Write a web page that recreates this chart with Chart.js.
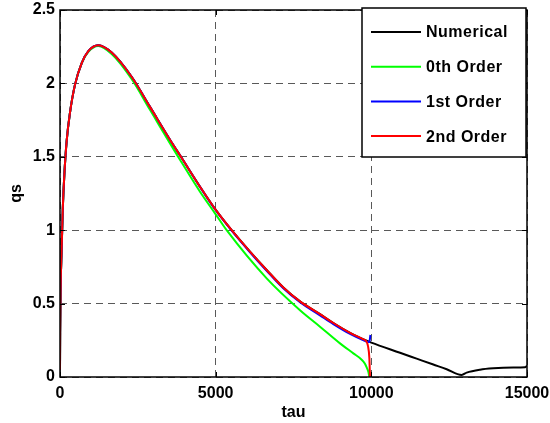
<!DOCTYPE html>
<html>
<head>
<meta charset="utf-8">
<script src="https://cdn.jsdelivr.net/npm/chart.js@4.4.0/dist/chart.umd.min.js"></script>
<style>
  html, body { margin: 0; padding: 0; background: #fff; }
  #wrap { width: 550px; height: 423px; }
</style>
</head>
<body>
<div id="wrap"><canvas id="chart" width="550" height="423"></canvas></div>
<script>
// values
const xTicks = [0, 5000, 10000, 15000];
const yTicks = [0, 0.5, 1, 1.5, 2, 2.5];

const tauNumerical = [0, 5, 20, 50, 90, 140, 215, 320, 480, 700, 910, 1230, 1660, 2300, 2890, 3640, 3854, 4497, 4979, 5514, 6103, 6638, 7173, 7709, 8351, 8780, 9300, 9750, 10000, 10921, 11456, 11991, 12420, 12902, 13062, 13490, 13918, 14561, 14936, 15000];
const qsNumerical  = [0.05, 0.3, 0.6, 0.85, 1.15, 1.38, 1.61, 1.80, 1.99, 2.14, 2.22, 2.26, 2.21, 2.045, 1.84, 1.58, 1.51, 1.296, 1.145, 1.0, 0.854, 0.729, 0.61, 0.515, 0.428, 0.368, 0.303, 0.256, 0.234, 0.165, 0.125, 0.085, 0.053, 0.014, 0.03, 0.05, 0.059, 0.064, 0.066, 0.077];

const tau0th = [0, 5, 20, 50, 90, 140, 215, 320, 480, 700, 910, 1230, 1660, 2300, 2890, 3854, 4497, 4979, 5353, 6638, 7709, 8351, 8994, 9422, 9690, 9790, 9850, 9904, 9936];
const qs0th  = [0.05, 0.3, 0.6, 0.85, 1.15, 1.38, 1.61, 1.80, 1.99, 2.14, 2.215, 2.255, 2.2, 2.03, 1.82, 1.48, 1.262, 1.115, 1.0, 0.672, 0.455, 0.343, 0.229, 0.161, 0.118, 0.092, 0.065, 0.035, 0];

const tau1st = [0, 5, 20, 50, 90, 140, 215, 320, 480, 700, 910, 1230, 1660, 2300, 2890, 3640, 3854, 4497, 4979, 5514, 6103, 6638, 7173, 7709, 8351, 8780, 9300, 9750, 9850, 9936, 9970];
const qs1st  = [0.05, 0.3, 0.6, 0.85, 1.15, 1.38, 1.61, 1.80, 1.99, 2.14, 2.22, 2.26, 2.21, 2.045, 1.84, 1.58, 1.51, 1.295, 1.143, 0.997, 0.85, 0.724, 0.605, 0.51, 0.42, 0.36, 0.295, 0.25, 0.242, 0.238, 0.286];

const tau2nd = [0, 5, 20, 50, 90, 140, 215, 320, 480, 700, 910, 1230, 1660, 2300, 2890, 3640, 3854, 4497, 4979, 5514, 6103, 6638, 7173, 7709, 8351, 8780, 9300, 9750, 9820, 9893, 9936, 9957];
const qs2nd  = [0.05, 0.3, 0.6, 0.85, 1.15, 1.38, 1.61, 1.80, 1.99, 2.14, 2.22, 2.26, 2.21, 2.045, 1.84, 1.58, 1.51, 1.296, 1.145, 1.0, 0.854, 0.729, 0.61, 0.515, 0.428, 0.368, 0.303, 0.256, 0.248, 0.21, 0.13, 0];

const toPoints = (xs, ys) => xs.map((x, i) => ({x: x, y: ys[i]}));

function series(label, xs, ys, color, order) {
    return {
        label: label,
        data: toPoints(xs, ys),
        borderColor: color,
        backgroundColor: color,
        borderWidth: 2,
        pointRadius: 0,
        cubicInterpolationMode: 'monotone',
        order: order
    };
}

// box round the plot, inner ticks and the legend, MATLAB style
const frame = {
    id: 'frame',
    afterDatasetsDraw(chart) {
        const {ctx, chartArea: a, scales: {x, y}} = chart;
        ctx.save();
        ctx.strokeStyle = '#000';
        ctx.lineWidth = 1;
        ctx.beginPath();
        for (const v of xTicks) {
            const px = Math.round(x.getPixelForValue(v)) + 0.5;
            ctx.moveTo(px, a.bottom); ctx.lineTo(px, a.bottom - 5);
            ctx.moveTo(px, a.top); ctx.lineTo(px, a.top + 5);
        }
        for (const v of yTicks) {
            const py = Math.round(y.getPixelForValue(v)) + 0.5;
            ctx.moveTo(a.left, py); ctx.lineTo(a.left + 5, py);
            ctx.moveTo(a.right, py); ctx.lineTo(a.right - 5, py);
        }
        ctx.stroke();
        ctx.lineWidth = 1.5;
        ctx.strokeRect(a.left, a.top, a.right - a.left, a.bottom - a.top);
        ctx.restore();
    },
    afterDraw(chart) {
        const {ctx, chartArea: a} = chart;
        const right = a.right - 1, left = right - 164, top = a.top - 2, bottom = top + 149;
        ctx.save();
        ctx.fillStyle = '#fff';
        ctx.fillRect(left, top, right - left, bottom - top);
        ctx.strokeStyle = '#000';
        ctx.lineWidth = 1.5;
        ctx.strokeRect(left, top, right - left, bottom - top);
        ctx.font = 'bold 16px "Liberation Sans", Arial, sans-serif';
        ctx.letterSpacing = '0.5px';
        ctx.textBaseline = 'middle';
        chart.data.datasets.forEach((ds, i) => {
            const yy = top + 24 + i * 34.7;
            ctx.strokeStyle = ds.borderColor;
            ctx.lineWidth = 2;
            ctx.beginPath();
            ctx.moveTo(left + 9, yy);
            ctx.lineTo(left + 59, yy);
            ctx.stroke();
            ctx.fillStyle = '#000';
            ctx.fillText(ds.label, left + 64, yy + 1);
        });
        ctx.restore();
    }
};

Chart.defaults.font.family = '"Liberation Sans", Arial, sans-serif';
Chart.defaults.font.weight = 'bold';
Chart.defaults.font.size = 16;
Chart.defaults.color = '#000';

const gridStyle = {color: 'rgba(0,0,0,0.65)', lineWidth: 1, drawTicks: false, tickLength: 0};

const config = {
    type: 'line',
    data: {
        datasets: [
            series('Numerical', tauNumerical, qsNumerical, '#000000', 4),
            series('0th Order', tau0th, qs0th, '#00ff00', 3),
            series('1st Order', tau1st, qs1st, '#0000ff', 2),
            series('2nd Order', tau2nd, qs2nd, '#ff0000', 1)
        ]
    },
    options: {
        responsive: false,
        animation: false,
        layout: {padding: {left: 0, right: 23, top: 10, bottom: 0}},
        plugins: {legend: {display: false}, tooltip: {enabled: false}},
        scales: {
            x: {
                type: 'linear',
                min: 0,
                max: 15000,
                afterBuildTicks: (scale) => { scale.ticks = xTicks.map(v => ({value: v})); },
                afterFit: (scale) => {
                    scale.height = 46;
                    scale.paddingLeft = 0;
                    scale.paddingRight = 0;
                },
                ticks: {padding: 7, maxRotation: 0, callback: (v) => String(v)},
                grid: gridStyle,
                border: {display: false, dash: [7, 5]},
                title: {display: true, text: 'tau', padding: {top: 0, bottom: 1}}
            },
            y: {
                type: 'linear',
                min: 0,
                max: 2.5,
                afterBuildTicks: (scale) => { scale.ticks = yTicks.map(v => ({value: v})); },
                afterFit: (scale) => {
                    scale.width = 60;
                    scale.paddingTop = 0;
                    scale.paddingBottom = 0;
                },
                ticks: {padding: 5, callback: (v) => String(v)},
                grid: gridStyle,
                border: {display: false, dash: [7, 5]},
                title: {display: true, text: 'qs', padding: {top: 7, bottom: 0}}
            }
        }
    },
    plugins: [frame]
};

const myChart = new Chart(document.getElementById('chart'), config);
</script>
</body>
</html>
